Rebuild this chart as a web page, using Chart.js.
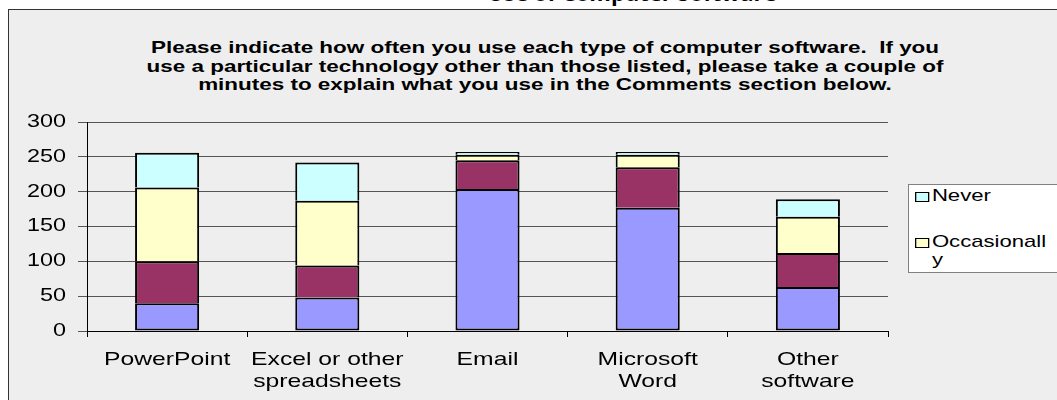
<!DOCTYPE html>
<html>
<head>
<meta charset="utf-8">
<script src="https://cdn.jsdelivr.net/npm/chart.js@4.4.0/dist/chart.umd.min.js"></script>
<style>
  html, body { margin: 0; padding: 0; background: #fff; overflow: hidden; }
  body { width: 1057px; height: 400px; position: relative; font-family: "Liberation Sans", Arial, sans-serif; }
  #frame { position: absolute; left: 8px; top: 9px; width: 1070px; height: 420px; background: #eeeeee; border: 1px solid #333; box-sizing: border-box; }
  #title { position: absolute; left: 432px; width: 400px; top: -19px; text-align: center; font: bold 22px/22px "Open Sans", sans-serif; color: #000; }
  #subtitle { position: absolute; left: 45px; width: 1000px; top: 39px; text-align: center; font: bold 17px/18.5px "Liberation Sans", Arial, sans-serif; color: #000; transform: scaleX(1.32); transform-origin: 500px 0; }
  #chart { position: absolute; left: 0; top: 0; }
  #legend { position: absolute; left: 908px; top: 184px; width: 170px; height: 89px; background: #fff; border: 1px solid #808080; box-sizing: border-box; }
  .item { position: absolute; left: 6px; display: flex; align-items: flex-start; font: 17px/18px "Liberation Sans", Arial, sans-serif; color: #000; transform: scaleX(1.3); transform-origin: 0 0; }
  .box { width: 9px; height: 8px; border: 1px solid #000; margin: 5px 2px 0 0; flex: none; }
  .txt { width: 92px; word-break: break-all; }
</style>
</head>
<body>
<div id="frame"></div>
<div id="title">Use of Computer Software</div>
<div id="subtitle">Please indicate how often you use each type of computer software.&nbsp; If you<br>use a particular technology other than those listed, please take a couple of<br>minutes to explain what you use in the Comments section below.</div>
<canvas id="chart" width="1057" height="400"></canvas>
<div id="legend"></div>
<script>
// categories and counts (bottom segment first)
const categories = [['PowerPoint'], ['Excel or other', 'spreadsheets'], ['Email'], ['Microsoft', 'Word'], ['Other', 'software']];
const seriesNames = ['Frequently', 'Sometimes', 'Occasionally', 'Never'];
const frequently = [40, 48, 204, 177, 63];
const sometimes = [60, 46, 41, 58, 49];
const occasionally = [106, 93, 8, 18, 52];
const never = [50, 55, 4, 4, 25];
const yTicks = [0, 50, 100, 150, 200, 250, 300];
const colors = ['#9999ff', '#993366', '#ffffcc', '#ccffff'];
const inLegend = [false, false, true, true];

const values = [frequently, sometimes, occasionally, never];

const datasets = values.map((data, i) => ({
  label: seriesNames[i],
  data: data,
  backgroundColor: colors[i],
  borderColor: '#000',
  borderWidth: { top: 2, left: 2, right: 2, bottom: i === 0 ? 2 : 0 },
  borderSkipped: false,
  barPercentage: 0.4,
  categoryPercentage: 1
}));

// the old picture has its text stretched sideways, so widen every label drawn on the canvas
const stretchText = {
  id: 'stretchText',
  beforeDraw(chart) {
    const ctx = chart.ctx;
    if (ctx._stretched) return;
    const orig = ctx.fillText.bind(ctx);
    ctx.fillText = function (text, x, y, maxWidth) {
      ctx.save();
      ctx.translate(x, y);
      ctx.scale(1.3, 1);
      if (maxWidth === undefined) orig(text, 0, 0);
      else orig(text, 0, 0, maxWidth / 1.3);
      ctx.restore();
    };
    ctx._stretched = true;
  }
};

new Chart(document.getElementById('chart'), {
  type: 'bar',
  data: { labels: categories, datasets: datasets },
  plugins: [stretchText],
  options: {
    responsive: false,
    animation: false,
    layout: { padding: { left: 0, top: 122, right: 169, bottom: 0 } },
    plugins: { legend: { display: false }, title: { display: false }, tooltip: { enabled: false } },
    scales: {
      x: {
        stacked: true,
        afterFit(s) { s.height = 69; },
        grid: { drawOnChartArea: false, color: '#000', tickLength: 6, offset: true },
        border: { color: '#000', width: 1 },
        ticks: { color: '#000', padding: 11, font: { family: '"Liberation Sans", Arial', size: 19, lineHeight: 1.2 }, maxRotation: 0, autoSkip: false }
      },
      y: {
        stacked: true,
        min: 0,
        max: 300,
        afterFit(s) { s.width = 87; },
        afterBuildTicks(s) { s.ticks = yTicks.map(v => ({ value: v })); },
        grid: { color: '#555', tickLength: 9 },
        border: { color: '#000', width: 1 },
        ticks: { color: '#000', padding: 12, font: { family: '"Liberation Sans", Arial', size: 18 } }
      }
    }
  }
});

// legend box shows only the two upper series, top one first
const legend = document.getElementById('legend');
const tops = [11, 57];
let row = 0;
for (let i = seriesNames.length - 1; i >= 0; i--) {
  if (!inLegend[i]) continue;
  const item = document.createElement('div');
  item.className = 'item';
  item.style.top = (tops[row++] - 9) + 'px';
  item.innerHTML = '<span class="box" style="background:' + colors[i] + '"></span><span class="txt">' + seriesNames[i] + '</span>';
  legend.appendChild(item);
}
</script>
</body>
</html>
